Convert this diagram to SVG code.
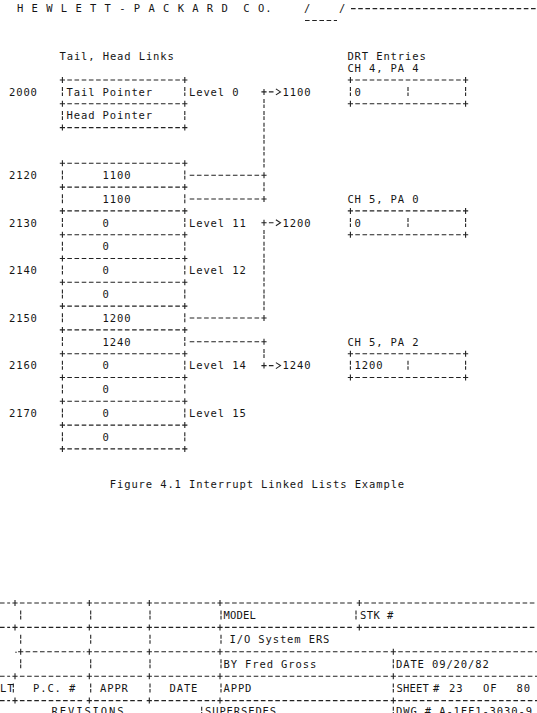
<svg xmlns="http://www.w3.org/2000/svg" width="537" height="713" viewBox="0 0 537 713">
<style>
.ln{stroke:#222;stroke-width:1.1;fill:none}
.h{stroke-dasharray:4.6 2.6}
text{font-family:"DejaVu Sans Mono","Liberation Mono",monospace;font-size:10.5px;letter-spacing:0.88px;fill:#151515;white-space:pre}
</style>
<defs>
<path id="p" class="ln" d="M-2.6 0H2.6M0-3V3"/>
<path id="b" class="ln" d="M0-4.8v4M0 0.6v3.6"/>
<path id="gt" class="ln" d="M-7.2 0H-2.6M-0.2-3L4.4 0L-0.2 3"/>
</defs>
<rect width="537" height="713" fill="#fff"/>

<g id="header">
<text x="17" y="12.2" xml:space="preserve" style="letter-spacing:0.98px">H E W L E T T - P A C K A R D  C O.</text>
<text x="304" y="12.2">/</text>
<text x="339" y="12.2">/</text>
<path class="ln h" d="M351 8.6H537"/>
<path class="ln h" d="M305 20.5H337"/>
</g>

<g id="titles">
<text x="59.5" y="59.8">Tail, Head Links</text>
<text x="347.4" y="59.8">DRT Entries</text>
<text x="347.4" y="71.7">CH 4, PA 4</text>
</g>

<g id="cell-2000">
<path class="ln h" d="M67.3 80H179.9"/>
<use href="#p" x="62.4" y="80"/><use href="#p" x="184.8" y="80"/>
<use href="#b" x="62.4" y="91.9"/><use href="#b" x="184.8" y="91.9"/>
<text x="9" y="95.6">2000</text>
<text x="66.6" y="95.6">Tail Pointer</text>
<text x="189" y="95.6">Level 0</text>
</g>
<g id="cell-2001">
<path class="ln h" d="M67.3 103.8H179.9M67.3 127.6H179.9"/>
<use href="#p" x="62.4" y="103.8"/><use href="#p" x="184.8" y="103.8"/>
<use href="#b" x="62.4" y="115.7"/><use href="#b" x="184.8" y="115.7"/>
<use href="#p" x="62.4" y="127.6"/><use href="#p" x="184.8" y="127.6"/>
<text x="66.6" y="119.4">Head Pointer</text>
</g>

<g id="cell-2120">
<path class="ln h" d="M67.3 163.3H179.9"/>
<use href="#p" x="62.4" y="163.3"/><use href="#p" x="184.8" y="163.3"/>
<use href="#b" x="62.4" y="175.2"/><use href="#b" x="184.8" y="175.2"/>
<text x="9" y="178.9">2120</text>
<text x="102.6" y="178.9">1100</text>
</g>
<g id="cell-2121">
<path class="ln h" d="M67.3 187.1H179.9"/>
<use href="#p" x="62.4" y="187.1"/><use href="#p" x="184.8" y="187.1"/>
<use href="#b" x="62.4" y="199"/><use href="#b" x="184.8" y="199"/>
<text x="102.6" y="202.7">1100</text>
</g>
<g id="cell-2130">
<path class="ln h" d="M67.3 210.9H179.9"/>
<use href="#p" x="62.4" y="210.9"/><use href="#p" x="184.8" y="210.9"/>
<use href="#b" x="62.4" y="222.8"/><use href="#b" x="184.8" y="222.8"/>
<text x="9" y="226.5">2130</text>
<text x="102.6" y="226.5">0</text>
<text x="189" y="226.5">Level 11</text>
</g>
<g id="cell-2131">
<path class="ln h" d="M67.3 234.7H179.9"/>
<use href="#p" x="62.4" y="234.7"/><use href="#p" x="184.8" y="234.7"/>
<use href="#b" x="62.4" y="246.6"/><use href="#b" x="184.8" y="246.6"/>
<text x="102.6" y="250.3">0</text>
</g>
<g id="cell-2140">
<path class="ln h" d="M67.3 258.5H179.9"/>
<use href="#p" x="62.4" y="258.5"/><use href="#p" x="184.8" y="258.5"/>
<use href="#b" x="62.4" y="270.4"/><use href="#b" x="184.8" y="270.4"/>
<text x="9" y="274.1">2140</text>
<text x="102.6" y="274.1">0</text>
<text x="189" y="274.1">Level 12</text>
</g>
<g id="cell-2141">
<path class="ln h" d="M67.3 282.3H179.9"/>
<use href="#p" x="62.4" y="282.3"/><use href="#p" x="184.8" y="282.3"/>
<use href="#b" x="62.4" y="294.2"/><use href="#b" x="184.8" y="294.2"/>
<text x="102.6" y="297.9">0</text>
</g>
<g id="cell-2150">
<path class="ln h" d="M67.3 306.1H179.9"/>
<use href="#p" x="62.4" y="306.1"/><use href="#p" x="184.8" y="306.1"/>
<use href="#b" x="62.4" y="318"/><use href="#b" x="184.8" y="318"/>
<text x="9" y="321.7">2150</text>
<text x="102.6" y="321.7">1200</text>
</g>
<g id="cell-2151">
<path class="ln h" d="M67.3 329.9H179.9"/>
<use href="#p" x="62.4" y="329.9"/><use href="#p" x="184.8" y="329.9"/>
<use href="#b" x="62.4" y="341.8"/><use href="#b" x="184.8" y="341.8"/>
<text x="102.6" y="345.5">1240</text>
</g>
<g id="cell-2160">
<path class="ln h" d="M67.3 353.7H179.9"/>
<use href="#p" x="62.4" y="353.7"/><use href="#p" x="184.8" y="353.7"/>
<use href="#b" x="62.4" y="365.6"/><use href="#b" x="184.8" y="365.6"/>
<text x="9" y="369.3">2160</text>
<text x="102.6" y="369.3">0</text>
<text x="189" y="369.3">Level 14</text>
</g>
<g id="cell-2161">
<path class="ln h" d="M67.3 377.5H179.9"/>
<use href="#p" x="62.4" y="377.5"/><use href="#p" x="184.8" y="377.5"/>
<use href="#b" x="62.4" y="389.4"/><use href="#b" x="184.8" y="389.4"/>
<text x="102.6" y="393.1">0</text>
</g>
<g id="cell-2170">
<path class="ln h" d="M67.3 401.3H179.9"/>
<use href="#p" x="62.4" y="401.3"/><use href="#p" x="184.8" y="401.3"/>
<use href="#b" x="62.4" y="413.2"/><use href="#b" x="184.8" y="413.2"/>
<text x="9" y="416.9">2170</text>
<text x="102.6" y="416.9">0</text>
<text x="189" y="416.9">Level 15</text>
</g>
<g id="cell-2171">
<path class="ln h" d="M67.3 425.1H179.9M67.3 448.9H179.9"/>
<use href="#p" x="62.4" y="425.1"/><use href="#p" x="184.8" y="425.1"/>
<use href="#b" x="62.4" y="437"/><use href="#b" x="184.8" y="437"/>
<use href="#p" x="62.4" y="448.9"/><use href="#p" x="184.8" y="448.9"/>
<text x="102.6" y="440.7">0</text>
</g>

<g id="drt-ch4-pa4">
<path class="ln h" d="M355.3 80H460.7M355.3 103.8H460.7"/>
<use href="#p" x="350.4" y="80"/><use href="#p" x="465.6" y="80"/>
<use href="#b" x="350.4" y="91.9"/><use href="#b" x="408" y="91.9"/><use href="#b" x="465.6" y="91.9"/>
<use href="#p" x="350.4" y="103.8"/><use href="#p" x="465.6" y="103.8"/>
<text x="354.6" y="95.6">0</text>
</g>
<g id="drt-ch5-pa0">
<text x="347.4" y="202.7">CH 5, PA 0</text>
<path class="ln h" d="M355.3 210.9H460.7M355.3 234.7H460.7"/>
<use href="#p" x="350.4" y="210.9"/><use href="#p" x="465.6" y="210.9"/>
<use href="#b" x="350.4" y="222.8"/><use href="#b" x="408" y="222.8"/><use href="#b" x="465.6" y="222.8"/>
<use href="#p" x="350.4" y="234.7"/><use href="#p" x="465.6" y="234.7"/>
<text x="354.6" y="226.5">0</text>
</g>
<g id="drt-ch5-pa2">
<text x="347.4" y="345.5">CH 5, PA 2</text>
<path class="ln h" d="M355.3 353.7H460.7M355.3 377.5H460.7"/>
<use href="#p" x="350.4" y="353.7"/><use href="#p" x="465.6" y="353.7"/>
<use href="#b" x="350.4" y="365.6"/><use href="#b" x="408" y="365.6"/><use href="#b" x="465.6" y="365.6"/>
<use href="#p" x="350.4" y="377.5"/><use href="#p" x="465.6" y="377.5"/>
<text x="354.6" y="369.3">1200</text>
</g>

<g id="connectors">
<use href="#p" x="264" y="91.9"/><use href="#gt" x="276.1" y="91.9"/>
<text x="282.6" y="95.6">1100</text>
<use href="#b" x="264" y="103.8"/><use href="#b" x="264" y="115.7"/><use href="#b" x="264" y="127.6"/>
<use href="#b" x="264" y="139.5"/><use href="#b" x="264" y="151.4"/><use href="#b" x="264" y="163.3"/>
<path class="ln h" d="M189.7 175.2H259.1"/><use href="#p" x="264" y="175.2"/>
<use href="#b" x="264" y="187.1"/>
<path class="ln h" d="M189.7 199H259.1"/><use href="#p" x="264" y="199"/>

<use href="#p" x="264" y="222.8"/><use href="#gt" x="276.1" y="222.8"/>
<text x="282.6" y="226.5">1200</text>
<use href="#b" x="264" y="234.7"/><use href="#b" x="264" y="246.6"/><use href="#b" x="264" y="258.5"/>
<use href="#b" x="264" y="270.4"/><use href="#b" x="264" y="282.3"/><use href="#b" x="264" y="294.2"/>
<use href="#b" x="264" y="306.1"/>
<path class="ln h" d="M189.7 318H259.1"/><use href="#p" x="264" y="318"/>

<path class="ln h" d="M189.7 341.8H259.1"/><use href="#p" x="264" y="341.8"/>
<use href="#b" x="264" y="353.7"/>
<use href="#p" x="264" y="365.6"/><use href="#gt" x="276.1" y="365.6"/>
<text x="282.6" y="369.3">1240</text>
</g>

<g id="caption">
<text x="109.8" y="488.3">Figure 4.1 Interrupt Linked Lists Example</text>
</g>

<g id="title-block">
<path class="ln h" d="M0 603H10.1M19.9 603H84.4M94.2 603H144.4M154.2 603H215.1M224.9 603H354.4M364.2 603H537"/>
<use href="#p" x="15" y="603"/><use href="#p" x="89.3" y="603"/><use href="#p" x="149.3" y="603"/><use href="#p" x="220" y="603"/><use href="#p" x="359.3" y="603"/>
<use href="#b" x="20.7" y="615.2"/><use href="#b" x="90.7" y="615.2"/><use href="#b" x="150" y="615.2"/><use href="#b" x="221" y="615.2"/><use href="#b" x="356" y="615.2"/>
<text x="223.5" y="618.9" style="letter-spacing:0.2px">MODEL</text>
<text x="360" y="618.9" style="letter-spacing:0.4px">STK #</text>
<path class="ln h" d="M0 627.4H10.1M19.9 627.4H84.4M94.2 627.4H144.4M154.2 627.4H215.1M224.9 627.4H354.4M364.2 627.4H537"/>
<use href="#p" x="15" y="627.4"/><use href="#p" x="89.3" y="627.4"/><use href="#p" x="149.3" y="627.4"/><use href="#p" x="220" y="627.4"/><use href="#p" x="359.3" y="627.4"/>
<use href="#b" x="20.7" y="639.6"/><use href="#b" x="90.7" y="639.6"/><use href="#b" x="150" y="639.6"/><use href="#b" x="221" y="639.6"/>
<text x="229.5" y="643.3">I/O System ERS</text>
<circle cx="16" cy="652.3" r="0.7" fill="#222"/>
<path class="ln h" d="M25.6 651.8H84.4M94.2 651.8H144.4M154.2 651.8H215.1M224.9 651.8H388.4M398.2 651.8H537"/>
<use href="#p" x="20.7" y="651.8"/><use href="#p" x="89.3" y="651.8"/><use href="#p" x="149.3" y="651.8"/><use href="#p" x="220" y="651.8"/><use href="#p" x="393.3" y="651.8"/>
<use href="#b" x="20.7" y="664"/><use href="#b" x="90.7" y="664"/><use href="#b" x="150" y="664"/><use href="#b" x="221" y="664"/><use href="#b" x="393.3" y="664"/>
<text x="223.5" y="667.7">BY Fred Gross</text>
<text x="396" y="667.7">DATE 09/20/82</text>
<path class="ln h" d="M0 676.2H10.1M19.9 676.2H84.4M94.2 676.2H144.4M154.2 676.2H215.1M224.9 676.2H388.4M398.2 676.2H537"/>
<use href="#p" x="15" y="676.2"/><use href="#p" x="89.3" y="676.2"/><use href="#p" x="149.3" y="676.2"/><use href="#p" x="220" y="676.2"/><use href="#p" x="393.3" y="676.2"/>
<use href="#b" x="13.3" y="688.4"/><use href="#b" x="90.7" y="688.4"/><use href="#b" x="150" y="688.4"/><use href="#b" x="221" y="688.4"/><use href="#b" x="393.3" y="688.4"/>
<text x="0" y="692.1">LT</text>
<text x="33" y="692.1">P.C. #</text>
<text x="100" y="692.1">APPR</text>
<text x="169.5" y="692.1">DATE</text>
<text x="223.5" y="692.1">APPD</text>
<text y="692.1"><tspan x="396.5" style="letter-spacing:0.2px">SHEET</tspan><tspan x="433">#</tspan><tspan x="449">23</tspan><tspan x="483">OF</tspan><tspan x="516.5">80</tspan></text>
<path class="ln h" d="M0 700.6H10.1M19.9 700.6H84.4M94.2 700.6H144.4M154.2 700.6H215.1M224.9 700.6H388.4M398.2 700.6H537"/>
<use href="#p" x="15" y="700.6"/><use href="#p" x="89.3" y="700.6"/><use href="#p" x="149.3" y="700.6"/><use href="#p" x="220" y="700.6"/><use href="#p" x="393.3" y="700.6"/>
<use href="#b" x="201.7" y="711.5"/><use href="#b" x="393.3" y="711.5"/>
<text x="51.5" y="715.1" style="letter-spacing:1.9px">REVISIONS</text>
<text x="205" y="715.1">SUPERSEDES</text>
<text x="396" y="715.1">DWG # A-1FF1-3030-9</text>
</g>
</svg>
